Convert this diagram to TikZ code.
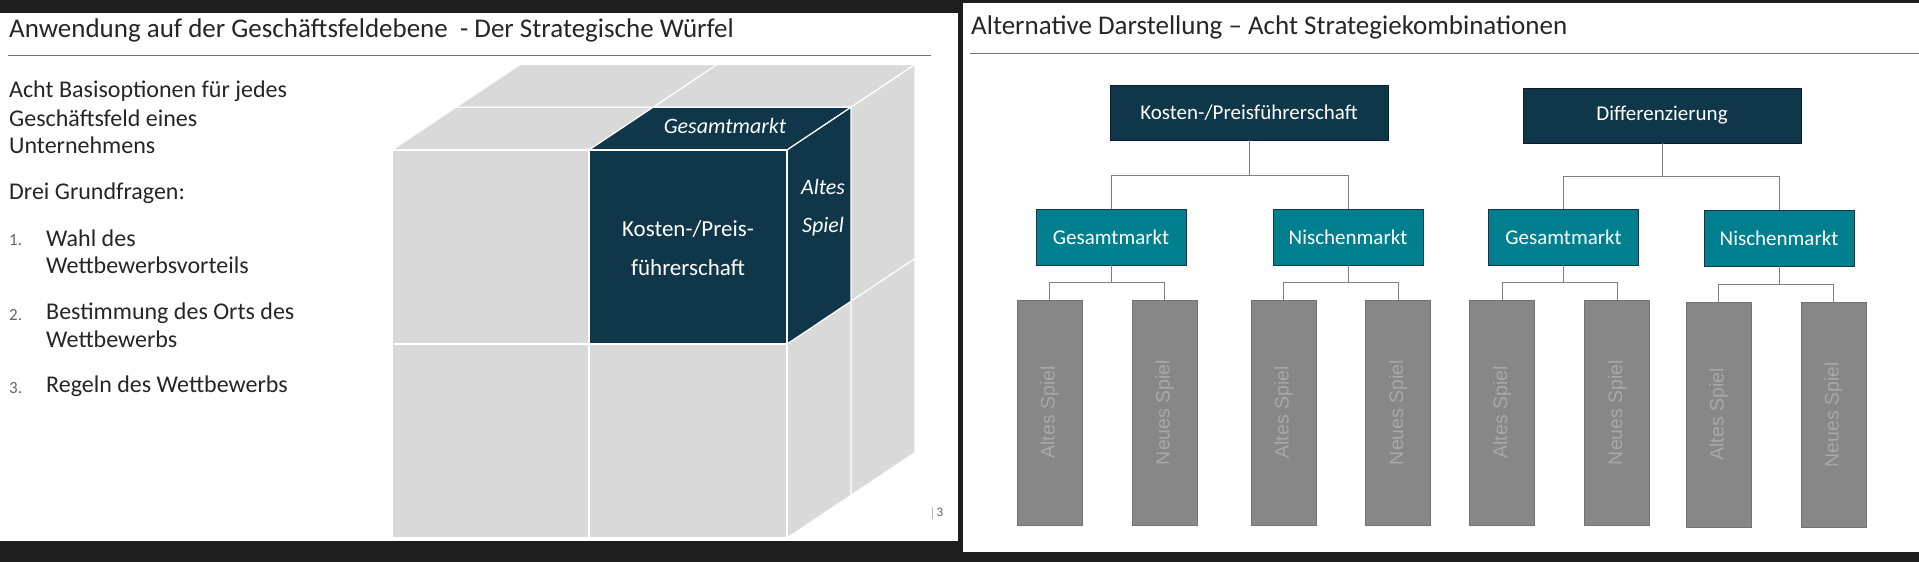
\documentclass[tikz,border=0pt]{standalone}
\usepackage{fontspec}
\setmainfont{Carlito}
\newfontfamily\arialf{Liberation Sans}
\definecolor{cubeg}{HTML}{D9D9D9}
\definecolor{navy}{HTML}{0F3649}
\definecolor{teal}{HTML}{00808F}
\definecolor{barg}{HTML}{878787}
\definecolor{bartx}{HTML}{A8A8A8}
\definecolor{bg}{HTML}{1E1E1E}
\begin{document}
\begin{tikzpicture}[x=1pt,y=-1pt,
  face/.style={fill=cubeg,draw=white,line width=1.2pt,line join=round},
  dface/.style={fill=navy,draw=white,line width=1.2pt,line join=round},
  txt/.style={anchor=west,inner sep=0pt,font=\fontsize{24}{28}\selectfont,text=black!85},
  num/.style={anchor=west,inner sep=0pt,font=\fontsize{17}{20}\selectfont,text=black!60},
  top/.style={fill=navy,draw=navy!60!black,minimum width=278pt,minimum height=55pt,inner sep=0pt,text=white,font=\fontsize{21}{24}\selectfont},
  mid/.style={fill=teal,draw=navy,minimum width=150pt,minimum height=56pt,inner sep=0pt,text=white,font=\fontsize{21}{24}\selectfont},
  bar/.style={fill=barg,draw=black!55,minimum width=65pt,minimum height=225pt,inner sep=0pt},
  bartxt/.style={rotate=90,text=bartx,font=\arialf\fontsize{19.5}{22}\selectfont},
  con/.style={draw=black!50,line width=0.8pt}]
\useasboundingbox (0,0) rectangle (1919,562);
\fill[bg] (0,0) rectangle (1919,562);
\fill[white] (0,12.5) rectangle (958,541);
\fill[white] (963,3) rectangle (1919,552);
% ---------- left panel
\node[txt,font=\fontsize{27}{30}\selectfont] (t1) at (9,30) {Anwendung auf der Geschäftsfeldebene\ \ - Der Strategische Würfel};
\draw[black!55,line width=1pt] (8,55) -- (931,55);
\node[txt] (a1) at (9,91) {Acht Basisoptionen für jedes};
\node[txt] (a2) at (9,118) {Geschäftsfeld eines};
\node[txt] (a3) at (9,145) {Unternehmens};
\node[txt] (a4) at (9,193) {Drei Grundfragen:};
\node[num] (n1) at (9,240) {1.};
\node[txt] (b1) at (46,238) {Wahl des};
\node[txt] (b2) at (46,265) {Wettbewerbsvorteils};
\node[num] (n2) at (9,315) {2.};
\node[txt] (c1) at (46,313) {Bestimmung des Orts des};
\node[txt] (c2) at (46,339) {Wettbewerbs};
\node[num] (n3) at (9,388) {3.};
\node[txt] (d1) at (46,386) {Regeln des Wettbewerbs};
\node[txt,font=\fontsize{13}{14}\selectfont,text=black!60] (pg) at (931,513) {$|$\,3};
% cube: front x 392-787, y 150-538; depth (128,-85.5)
\draw[face] (392,150) -- (787,150) -- (915,64.5) -- (520,64.5) -- cycle;
\draw[face] (787,150) -- (915,64.5) -- (915,452.5) -- (787,538) -- cycle;
\draw[face] (392,150) rectangle (787,538);
\draw[white,line width=1.2pt] (589,150) -- (589,538) (392,344) -- (787,344);
\draw[white,line width=1.2pt] (456,107.25) -- (851,107.25) (589,150) -- (717,64.5);
\draw[white,line width=1.2pt] (851,107.25) -- (851,495.25) (787,344) -- (915,258.5);
% dark cube
\draw[dface] (589,150) -- (787,150) -- (851,107.25) -- (653,107.25) -- cycle;
\draw[dface] (787,150) -- (851,107.25) -- (851,301.25) -- (787,344) -- cycle;
\draw[dface] (589,150) rectangle (787,344);
\node[text=white,font=\itshape\fontsize{22}{24}\selectfont] (g) at (725,126) {Gesamtmarkt};
\node[text=white,font=\itshape\fontsize{22}{24}\selectfont,align=center] (as) at (823,208) {Altes\\[14pt]Spiel};
\node[text=white,font=\fontsize{23}{25}\selectfont,align=center] (kp) at (688,248) {Kosten-/Preis-\\[14pt]führerschaft};
% ---------- right panel
\node[txt,font=\fontsize{27}{30}\selectfont] (t2) at (971,27) {Alternative Darstellung – Acht Strategiekombinationen};
\draw[black!55,line width=1pt] (970,53) -- (1919,53);
\node[top] (k) at (1249,112.5) {Kosten-/Preisführerschaft};
\node[top] (d) at (1662,115.5) {Differenzierung};
\node[mid] (g1) at (1111,237) {Gesamtmarkt};
\node[mid] (n1m) at (1348,237) {Nischenmarkt};
\node[mid] (g2) at (1563.5,237) {Gesamtmarkt};
\node[mid] (n2m) at (1779,238) {Nischenmarkt};
\foreach \i/\x/\t/\y in {1/1049.5/Altes/412.5,2/1164.5/Neues/412.5,3/1283.5/Altes/412.5,4/1398/Neues/412.5,5/1502/Altes/412.5,6/1617/Neues/412.5,7/1718.5/Altes/414.5,8/1833.5/Neues/414.5}{
  \node[bar] (b\i) at (\x,\y) {};
  \node[bartxt] (bt\i) at (b\i.center) {\t\ Spiel};
}
\draw[con] (k.south) -- (1249,175) -| (g1.north);
\draw[con] (1249,175) -| (n1m.north);
\draw[con] (d.south) -- (1662,176) -| (g2.north);
\draw[con] (1662,176) -| (n2m.north);
\draw[con] (g1.south) -- (1111,282) -| (b1.north); \draw[con] (1111,282) -| (b2.north);
\draw[con] (n1m.south) -- (1348,282) -| (b3.north); \draw[con] (1348,282) -| (b4.north);
\draw[con] (g2.south) -- (1563.5,282) -| (b5.north); \draw[con] (1563.5,282) -| (b6.north);
\draw[con] (n2m.south) -- (1779,284) -| (b7.north); \draw[con] (1779,284) -| (b8.north);
\end{tikzpicture}
\end{document}
